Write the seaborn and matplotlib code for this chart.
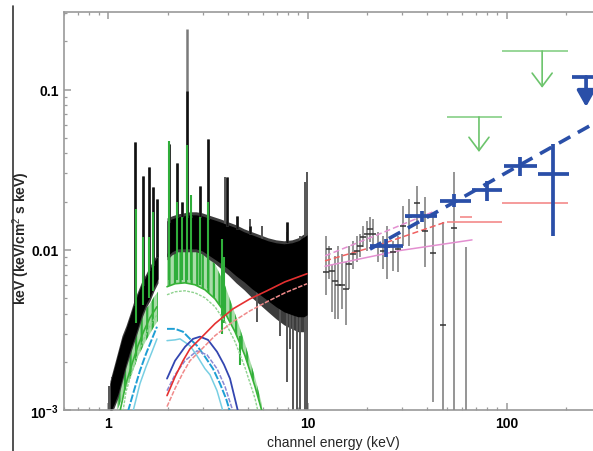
import numpy as np
import matplotlib
matplotlib.use("Agg")
import matplotlib.pyplot as plt
import seaborn as sns
from matplotlib.lines import Line2D
from matplotlib.ticker import FixedLocator, FixedFormatter, LogLocator, NullFormatter

# ---------------- data (keV, keV^2 flux) ----------------
# XIS (black) band, segment below the 1.8-2 keV gap
xis_E1 = [1.017, 1.066, 1.116, 1.169, 1.224, 1.282, 1.343, 1.406, 1.473, 1.543, 1.616, 1.693, 1.773]
xis_core_hi1 = [0.00146, 0.00181, 0.00224, 0.00278, 0.00321, 0.00382, 0.00460, 0.00531, 0.00614, 0.00679, 0.00761, 0.00842, 0.00918]
xis_core_lo1 = [0.00095, 0.00109, 0.00126, 0.00157, 0.00194, 0.00234, 0.00278, 0.00331, 0.00399, 0.00460, 0.00509, 0.00588, 0.00659]
xis_out_hi1 = [0.00152, 0.00189, 0.00234, 0.00291, 0.00336, 0.00399, 0.00481, 0.00555, 0.00640, 0.00709, 0.00795, 0.00879, 0.00958]
xis_out_lo1 = [0.00095, 0.00103, 0.00119, 0.00148, 0.00184, 0.00221, 0.00263, 0.00313, 0.00377, 0.00435, 0.00481, 0.00555, 0.00622]
# segment above the gap
xis_E2 = [1.968, 2.085, 2.235, 2.395, 2.567, 2.753, 2.951, 3.162, 3.390, 3.634, 3.986, 4.373, 4.797,
          5.262, 5.772, 6.331, 6.945, 7.618, 8.357, 8.960, 9.603, 9.942]
xis_core_hi2 = [0.01517, 0.01561, 0.01606, 0.01629, 0.01653, 0.01653, 0.01629, 0.01583, 0.01539, 0.01495, 0.01432,
                0.01372, 0.01295, 0.01241, 0.01188, 0.01138, 0.01106, 0.01090, 0.01106, 0.01138, 0.01205, 0.01241]
xis_core_lo2 = [0.00904, 0.00972, 0.01014, 0.01014, 0.01014, 0.01014, 0.00986, 0.00931, 0.00879, 0.00830, 0.00761,
                0.00688, 0.00631, 0.00571, 0.00524, 0.00481, 0.00441, 0.00410, 0.00393, 0.00382, 0.00382, 0.00393]
xis_out_hi2 = [0.01583, 0.01629, 0.01677, 0.01702, 0.01727, 0.01727, 0.01702, 0.01653, 0.01606, 0.01561, 0.01495,
               0.01432, 0.01352, 0.01295, 0.01241, 0.01188, 0.01154, 0.01138, 0.01154, 0.01188, 0.01259, 0.01295]
xis_out_lo2 = [0.00866, 0.00931, 0.00972, 0.00972, 0.00972, 0.00972, 0.00944, 0.00879, 0.00830, 0.00772, 0.00698,
               0.00622, 0.00563, 0.00502, 0.00454, 0.00410, 0.00371, 0.00340, 0.00321, 0.00308, 0.00308, 0.00317]
# black emission-line spikes
spk_E = [1.359, 1.491, 1.598, 1.674, 1.752, 2.014, 2.209, 2.341, 2.480, 2.598, 2.883, 3.161, 3.940, 4.423, 5.142, 7.889]
spk_lo = [0.0045, 0.006, 0.0075, 0.008, 0.009, 0.015, 0.016, 0.016, 0.016, 0.016, 0.016, 0.0155, 0.014, 0.0135, 0.0125, 0.011]
spk_hi = [0.0472, 0.0289, 0.0330, 0.0247, 0.0208, 0.0458, 0.0350, 0.0199, 0.239, 0.0163, 0.0251, 0.0492, 0.0285, 0.0163, 0.0141, 0.0150]
# noisy grey bars
noise_E = [3.85, 5.14, 5.58, 5.91, 7.28, 7.89, 8.17, 8.46, 8.86, 9.16, 9.70, 9.94, 1.006, 1.04]
noise_lo = [0.0140, 0.0100, 0.00356, 0.0110, 0.00291, 0.0015, 0.00241, 0.00095, 0.00095, 0.00095, 0.00095, 0.00095, 0.00095, 0.00095]
noise_hi = [0.0285, 0.0156, 0.0080, 0.0141, 0.0070, 0.0130, 0.0070, 0.0060, 0.00428, 0.0122, 0.0265, 0.0307, 0.00141, 0.0016]

# second XIS (green) band
gxis_E1 = [1.103, 1.169, 1.224, 1.282, 1.343, 1.406, 1.473, 1.543, 1.616, 1.693, 1.773]
gxis_hi1 = [0.00126, 0.00181, 0.00224, 0.00259, 0.00299, 0.00346, 0.00382, 0.00428, 0.00460, 0.00509, 0.00547]
gxis_lo1 = [0.00098, 0.00118, 0.00136, 0.00157, 0.00181, 0.00215, 0.00241, 0.00271, 0.00299, 0.00331, 0.00360]
gxis_E2 = [1.968, 2.159, 2.424, 2.720, 3.054, 3.429, 3.850, 4.322, 4.852, 5.447, 5.907]
gxis_hi2 = [0.00944, 0.00986, 0.01014, 0.00986, 0.00931, 0.00818, 0.00600, 0.00400, 0.00260, 0.00160, 0.00108]
gxis_lo2 = [0.00588, 0.00614, 0.00622, 0.00605, 0.00563, 0.00494, 0.00404, 0.00308, 0.00218, 0.00140, 0.00098]
gspk_E = [1.37, 1.49, 1.60, 1.67, 2.01, 2.21, 2.34, 2.48, 2.60, 2.88, 3.16, 3.70, 3.80, 4.60]
gspk_lo = [0.0035, 0.0045, 0.005, 0.0055, 0.0065, 0.0065, 0.0065, 0.0065, 0.0065, 0.006, 0.0058, 0.0030, 0.0035, 0.0019]
gspk_hi = [0.018, 0.012, 0.012, 0.0172, 0.0479, 0.0200, 0.016, 0.045, 0.022, 0.016, 0.020, 0.0117, 0.0090, 0.0029]

# model components (soft band)
grnA_E1 = [1.142, 1.224, 1.313, 1.406, 1.508, 1.616, 1.752]
grnA_F1 = [0.00098, 0.00146, 0.00194, 0.00252, 0.00313, 0.00377, 0.00441]
grnA_E2 = [1.968, 2.159, 2.424, 2.720, 3.054, 3.429, 3.850, 4.322, 4.852, 5.447, 5.907]
grnA_F2 = [0.00588, 0.00614, 0.00622, 0.00605, 0.00563, 0.00494, 0.00404, 0.00308, 0.00218, 0.00140, 0.00098]
grnB_E1 = [1.183, 1.224, 1.313, 1.406, 1.508, 1.616, 1.752]
grnB_F1 = [0.00098, 0.00130, 0.00173, 0.00224, 0.00278, 0.00336, 0.00393]
grnB_E2 = [1.968, 2.159, 2.424, 2.720, 3.054, 3.429, 3.850, 4.322, 4.852, 5.447, 5.640]
grnB_F2 = [0.00524, 0.00547, 0.00555, 0.00539, 0.00502, 0.00441, 0.00356, 0.00267, 0.00184, 0.00118, 0.00098]
cyA_E1 = [1.253, 1.328, 1.439, 1.543, 1.654, 1.752]
cyA_F1 = [0.00098, 0.00126, 0.00176, 0.00224, 0.00278, 0.00331]
cyA_E2 = [1.968, 2.159, 2.368, 2.567, 2.785, 3.054, 3.351, 3.634, 3.895, 4.079]
cyA_F2 = [0.00321, 0.00321, 0.00308, 0.00278, 0.00252, 0.00215, 0.00181, 0.00146, 0.00118, 0.00098]
cyB_E1 = [1.328, 1.439, 1.543, 1.654, 1.752]
cyB_F1 = [0.00098, 0.00146, 0.00186, 0.00231, 0.00278]
cyB_E2 = [1.968, 2.159, 2.288, 2.567, 2.785, 3.054, 3.236, 3.510, 3.762]
cyB_F2 = [0.00271, 0.00274, 0.00278, 0.00252, 0.00218, 0.00181, 0.00166, 0.00132, 0.00098]
blA_E = [1.968, 2.159, 2.424, 2.659, 2.883, 3.162, 3.510, 3.804, 4.079, 4.475]
blA_F = [0.00157, 0.00203, 0.00248, 0.00278, 0.00287, 0.00274, 0.00231, 0.00192, 0.00157, 0.00098]
blB_E = [1.968, 2.159, 2.424, 2.785, 3.126, 3.510, 3.850, 4.223]
blB_F = [0.00132, 0.00166, 0.00203, 0.00234, 0.00221, 0.00181, 0.00140, 0.00098]
rdA_E = [1.968, 2.159, 2.368, 2.567, 2.883, 3.429, 4.223, 5.142, 6.258, 7.706, 9.942]
rdA_F = [0.00123, 0.00161, 0.00203, 0.00241, 0.00278, 0.00346, 0.00428, 0.00494, 0.00555, 0.00631, 0.00709]
rdB_E = [1.968, 2.159, 2.368, 2.567, 2.883, 3.429, 4.223, 5.142, 6.258, 7.706, 9.942]
rdB_F = [0.00105, 0.00136, 0.00171, 0.00203, 0.00234, 0.00291, 0.00356, 0.00416, 0.00474, 0.00539, 0.00614]

# HXD-PIN (grey)
pin_E = [12.4, 12.8, 13.3, 13.75, 14.2, 14.9, 15.6, 16.2, 16.9, 17.7, 18.35, 19.0, 19.9, 20.6,
         21.3, 22.6, 24.0, 25.1, 26.9, 28.5, 30.2, 32.4, 35.5, 39.0, 42.7, 48.0, 54.5, 62.6]
pin_F = [0.0073, 0.0101, 0.0074, 0.0064, 0.0060, 0.0060, 0.0057, 0.0082, 0.0094, 0.0099, 0.0106, 0.0121, 0.0126, 0.0135,
         0.0126, 0.0106, 0.0099, 0.0104, 0.0097, 0.0101, 0.0141, 0.0161, 0.0196, 0.0131, 0.0096, 0.0034, 0.0137, 0.0005]
pin_hi = [0.0122, 0.0106, 0.0080, 0.0092, 0.0106, 0.0094, 0.0084, 0.0106, 0.0114, 0.0122, 0.0126, 0.0141, 0.0152, 0.0161,
          0.0156, 0.0130, 0.0122, 0.0141, 0.0114, 0.0122, 0.0188, 0.0208, 0.0251, 0.0214, 0.0161, 0.0150, 0.0307, 0.0104]
pin_lo = [0.0052, 0.0066, 0.0041, 0.0037, 0.0037, 0.0043, 0.0034, 0.0057, 0.0076, 0.0084, 0.0090, 0.0104, 0.0099, 0.0112,
          0.0106, 0.0084, 0.0076, 0.0066, 0.0074, 0.0073, 0.0106, 0.0106, 0.0135, 0.0078, 0.00113, 0.0002, 0.0002, 0.0002]
# hard-band models
pkU_E = [12.24, 23.1, 42.72]
pkU_F = [0.00916, 0.01259, 0.01726]
rdH_E = [12.24, 22.3, 50.22]
rdH_F = [0.00853, 0.0106, 0.0150]
pkL_E = [12.24, 29.2, 67.08]
pkL_F = [0.0079, 0.0099, 0.01153]
rstep_E1 = [50.22, 94.93, 58.39]
rstep_E2 = [94.93, 203.8, 67.08]
rstep_F = [0.01496, 0.0195, 0.0160]

# blue thick crosses
bat_E = [24.8, 37.6, 54.5, 79.8, 117.0, 171.0]
bat_Elo = [20.6, 30.9, 46.3, 67.1, 97.1, 144.0]
bat_Ehi = [30.2, 44.8, 66.4, 94.9, 142.0, 206.0]
bat_F = [0.0106, 0.0163, 0.0202, 0.0237, 0.0334, 0.0298]
bat_Flo = [0.00904, 0.0150, 0.0185, 0.0202, 0.0290, 0.0122]
bat_Fhi = [0.0117, 0.0175, 0.0224, 0.0269, 0.0380, 0.0458]
bat_ul_E, bat_ul_Elo, bat_ul_Ehi, bat_ul_F, bat_ul_tip = 251.0, 213.0, 310.0, 0.120, 0.078
bmod_E = [20.6, 54.5, 117.0, 272.0, 300.0]
bmod_F = [0.0101, 0.0198, 0.0339, 0.0610, 0.0652]
# green upper limits
gul_E = [72.7, 151.0]
gul_Elo = [50.2, 94.9]
gul_Ehi = [94.9, 204.0]
gul_F = [0.0675, 0.174]
gul_tip = [0.0408, 0.1026]

# ---------------- figure ----------------
sns.set_theme(style="ticks")
plt.rcParams['font.family'] = ['Liberation Sans', 'DejaVu Sans']
plt.rcParams['mathtext.fontset'] = 'custom'
plt.rcParams['mathtext.rm'] = 'Liberation Sans'
plt.rcParams['mathtext.bf'] = 'Liberation Sans:bold'
plt.rcParams['hatch.linewidth'] = 1.6

fig = plt.figure(figsize=(5.93, 4.52), dpi=100)
ax = fig.add_axes([0.1085, 0.0907, 0.9058, 0.8805])
ax.set_facecolor('white')
ax.set_xscale('log')
ax.set_yscale('log')

GREEN = '#2fae3a'
# green XIS band (striped like dense error bars)
for E, lo, hi in [(gxis_E1, gxis_lo1, gxis_hi1), (gxis_E2, gxis_lo2, gxis_hi2)]:
    ax.fill_between(E, lo, hi, facecolor='#a8dca8', edgecolor=GREEN, hatch='|||', lw=0, zorder=1)
# black XIS band
ax.fill_between(xis_E1, xis_out_lo1, xis_out_hi1, color='#3c3c3c', lw=0, zorder=2)
ax.fill_between(xis_E2, xis_out_lo2, xis_out_hi2, color='#3c3c3c', lw=0, zorder=2)
ax.fill_between(xis_E1, xis_core_lo1, xis_core_hi1, color='black', lw=0, zorder=2.1)
ax.fill_between(xis_E2, xis_core_lo2, xis_core_hi2, color='black', lw=0, zorder=2.1)
ax.vlines(noise_E, noise_lo, noise_hi, color='#555555', lw=1.4, zorder=2)
ax.vlines(spk_E, spk_lo, spk_hi, color='#7a7a7a', lw=1.8, zorder=2.2)
ax.vlines(spk_E, spk_lo, [min(h, 0.098) for h in spk_hi], color='#111111', lw=1.8, zorder=2.3)
ax.vlines(gspk_E, gspk_lo, gspk_hi, color=GREEN, lw=1.5, zorder=2.4)

# model curves
def curve(E, F, color, lw=1.1, ls='-'):
    sns.lineplot(x=E, y=F, ax=ax, color=color, lw=lw, linestyle=ls,
                 estimator=None, sort=False, legend=False, zorder=3)

curve(grnB_E1, grnB_F1, '#8fd28f', 1.0, (0, (2, 1)))
curve(grnB_E2, grnB_F2, '#8fd28f', 1.0, (0, (2, 1)))
curve(grnA_E1, grnA_F1, '#37b237', 1.2)
curve(grnA_E2, grnA_F2, '#37b237', 1.2)
curve(cyA_E1, cyA_F1, '#1e9fd4', 1.4, (0, (4, 1)))
curve(cyA_E2, cyA_F2, '#1e9fd4', 1.4, (0, (4, 1)))
curve(cyB_E1, cyB_F1, '#78cfe3', 1.1)
curve(cyB_E2, cyB_F2, '#78cfe3', 1.1)
curve(blA_E, blA_F, '#3346b0', 1.3)
curve(blB_E, blB_F, '#8a88d4', 1.1, (0, (3, 1)))
curve(rdA_E, rdA_F, '#e53030', 1.2)
curve(rdB_E, rdB_F, '#f08a8a', 1.1, (0, (3, 1)))

# HXD-PIN
pin_E_a = np.array(pin_E); pin_F_a = np.array(pin_F)
HALF = 10 ** 0.016
ax.errorbar(pin_E_a, pin_F_a,
            yerr=[pin_F_a - np.array(pin_lo), np.array(pin_hi) - pin_F_a],
            fmt='none', ecolor='#8c8c8c', elinewidth=1.3, capsize=0, zorder=3)
ax.hlines(pin_F_a, pin_E_a / HALF, pin_E_a * HALF, color='#333333', lw=1.1, zorder=3.1)

# hard models
curve(pkU_E, pkU_F, '#e38fd0', 1.1, (0, (4, 2)))
curve(pkL_E, pkL_F, '#e38fd0', 1.1)
curve(rdH_E, rdH_F, '#f06060', 1.1, (0, (4, 2)))
ax.hlines(rstep_F, rstep_E1, rstep_E2, color='#f28080', lw=1.1, zorder=3)

# blue crosses + dashed model
BLUE = '#2a4fa8'
bE = np.array(bat_E); bF = np.array(bat_F)
ax.errorbar(bE, bF, xerr=[bE - np.array(bat_Elo), np.array(bat_Ehi) - bE],
            yerr=[bF - np.array(bat_Flo), np.array(bat_Fhi) - bF],
            fmt='none', ecolor=BLUE, elinewidth=2.7, capsize=0, zorder=5)
ax.plot(bmod_E, bmod_F, color=BLUE, lw=2.6, ls=(0, (3.6, 2.4)), zorder=5)
ax.hlines(bat_ul_F, bat_ul_Elo, bat_ul_Ehi, color=BLUE, lw=2.7, zorder=5)
ax.annotate('', xy=(bat_ul_E, bat_ul_tip), xytext=(bat_ul_E, bat_ul_F),
            arrowprops=dict(arrowstyle='-|>,head_length=0.8,head_width=0.45', color=BLUE, lw=2.7,
                            shrinkA=0, shrinkB=0), zorder=5)
# green upper limits
ax.hlines(gul_F, gul_Elo, gul_Ehi, color='#86d086', lw=1.2, zorder=4)
for e, f, t in zip(gul_E, gul_F, gul_tip):
    ax.annotate('', xy=(e, t), xytext=(e, f),
                arrowprops=dict(arrowstyle='->,head_length=0.8,head_width=0.6', color='#6cc46c', lw=1.2,
                                shrinkA=0, shrinkB=0), zorder=4)

# axes styling
ax.set_xlim(0.6, 300)
ax.set_ylim(0.001, 0.305)
for s in ax.spines.values():
    s.set_color('#9a9a9a'); s.set_linewidth(1.2)
ax.tick_params(which='both', direction='in', top=True, right=True, colors='#9a9a9a',
               labelcolor='black', labelsize=10)
ax.tick_params(which='major', length=5, width=1.1, pad=4)
ax.tick_params(which='minor', length=2.5, width=0.9)
ax.xaxis.set_major_locator(FixedLocator([1, 10, 100]))
ax.xaxis.set_major_formatter(FixedFormatter(['1', '10', '100']))
ax.xaxis.set_minor_locator(LogLocator(base=10, subs=np.arange(2, 10)))
ax.xaxis.set_minor_formatter(NullFormatter())
ax.yaxis.set_major_locator(FixedLocator([0.001, 0.01, 0.1]))
ax.yaxis.set_major_formatter(FixedFormatter([r'$\mathbf{10^{-3}}$', '0.01', '0.1']))
ax.yaxis.set_minor_locator(LogLocator(base=10, subs=np.arange(2, 10)))
ax.yaxis.set_minor_formatter(NullFormatter())
for lab in ax.get_xticklabels() + ax.get_yticklabels():
    lab.set_fontweight('bold')
ax.set_xlabel('channel energy (keV)', fontsize=10, labelpad=4)
fig.text(21 / 593, 1 - 238 / 452, 'keV (keV/cm$^2$ s keV)', rotation=90,
         ha='center', va='center', fontsize=10, fontweight='bold')

fig.add_artist(Line2D([13 / 593, 13 / 593], [0, 1 - 7 / 452], transform=fig.transFigure,
                      color='#333333', lw=1.2))

fig.savefig('out.png', dpi=100, facecolor='white')
